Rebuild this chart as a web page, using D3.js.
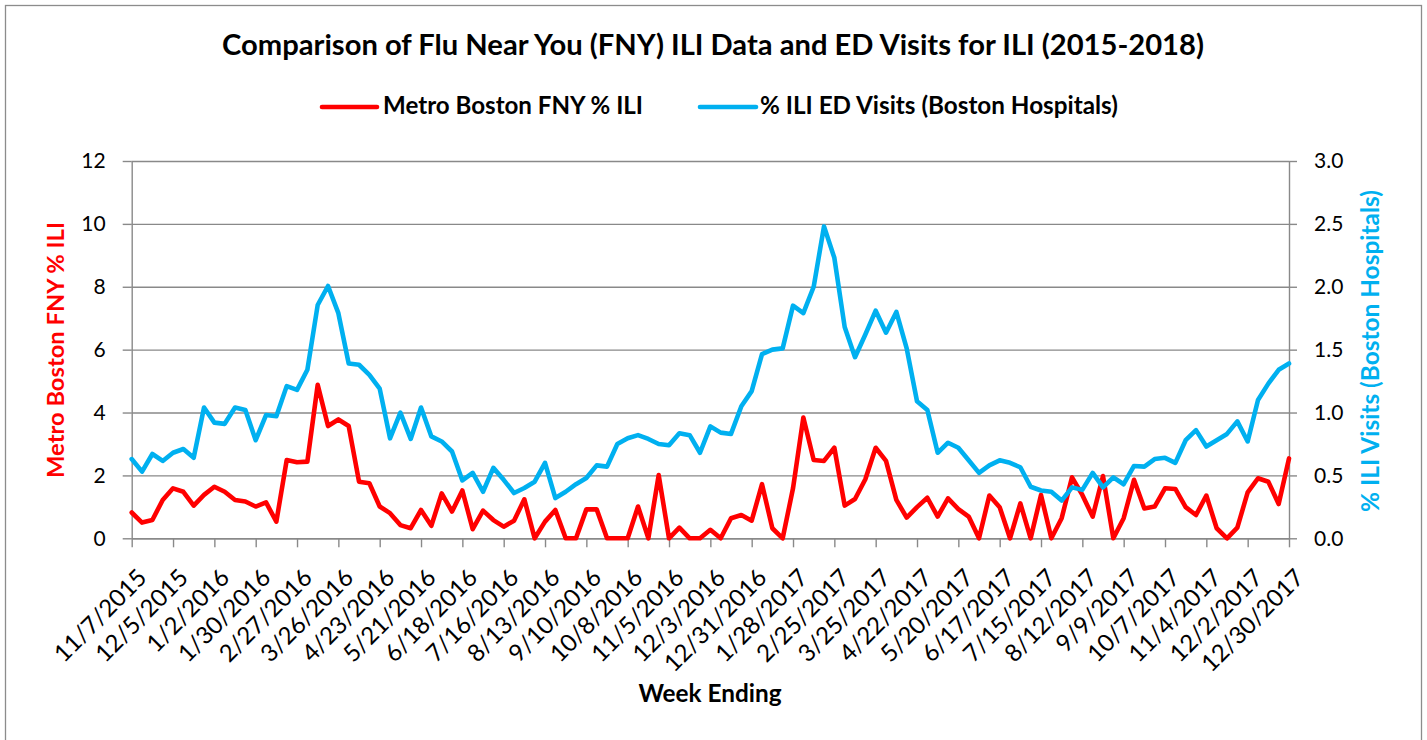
<!DOCTYPE html>
<html>
<head>
<meta charset="utf-8">
<script src="https://cdn.jsdelivr.net/npm/d3@7"></script>
<style>
  body { margin: 0; background: #fff; }
  svg { display: block; font-family: Lato, "Open Sans", sans-serif; }
</style>
</head>
<body>
<svg id="chart" width="1427" height="740"></svg>
<script>
width = 1427;
height = 740;

// weekly points, week ending Saturday
startWeek = '11/7/2015';
tickLabels = ['11/7/2015','12/5/2015','1/2/2016','1/30/2016','2/27/2016','3/26/2016','4/23/2016',
	'5/21/2016','6/18/2016','7/16/2016','8/13/2016','9/10/2016','10/8/2016','11/5/2016','12/3/2016',
	'12/31/2016','1/28/2017','2/25/2017','3/25/2017','4/22/2017','5/20/2017','6/17/2017','7/15/2017',
	'8/12/2017','9/9/2017','10/7/2017','11/4/2017','12/2/2017','12/30/2017'];

leftTicks = [0, 2, 4, 6, 8, 10, 12];
rightTicks = [0, 0.5, 1, 1.5, 2, 2.5, 3];

// Metro Boston FNY % ILI (left axis)
fnyValues = [0.82,0.50,0.58,1.22,1.59,1.48,1.04,1.38,1.64,1.48,1.22,1.17,1.01,1.14,0.53,2.49,2.42,2.44,4.88,3.57,
	3.78,3.57,1.80,1.75,1.01,0.80,0.42,0.32,0.90,0.40,1.43,0.85,1.52,0.29,0.88,0.58,0.37,0.56,1.24,0,
	0.53,0.90,0,0,0.92,0.92,0,0,0,1.01,0,2.01,0,0.34,0,0,0.27,0,0.64,0.74,
	0.56,1.72,0.32,0,1.59,3.84,2.49,2.46,2.88,1.04,1.25,1.88,2.88,2.46,1.22,0.66,0.99,1.29,0.69,1.27,
	0.93,0.69,0,1.36,0.99,0,1.11,0,1.38,0,0.64,1.94,1.38,0.69,1.98,0,0.64,1.86,0.95,1.01,
	1.59,1.57,0.99,0.74,1.36,0.32,0,0.34,1.46,1.91,1.80,1.09,2.54];

// % ILI ED visits, Boston hospitals (right axis)
edValues = [0.63,0.53,0.67,0.615,0.68,0.71,0.64,1.04,0.92,0.91,1.04,1.02,0.78,0.98,0.97,1.21,1.18,1.34,1.855,2.006,
	1.79,1.39,1.38,1.30,1.19,0.795,1.00,0.79,1.04,0.81,0.77,0.69,0.46,0.52,0.37,0.56,0.465,0.36,0.40,0.45,
	0.60,0.32,0.37,0.43,0.48,0.58,0.57,0.75,0.795,0.82,0.79,0.75,0.74,0.835,0.82,0.68,0.89,0.84,0.83,1.05,
	1.17,1.465,1.50,1.51,1.85,1.79,2.00,2.48,2.23,1.68,1.44,1.62,1.81,1.635,1.80,1.51,1.09,1.02,0.68,0.76,
	0.72,0.62,0.52,0.58,0.62,0.60,0.565,0.41,0.38,0.37,0.30,0.405,0.385,0.52,0.405,0.485,0.43,0.575,0.57,0.63,
	0.64,0.60,0.78,0.86,0.73,0.78,0.83,0.93,0.77,1.10,1.23,1.34,1.39];

seriesNames = ['Metro Boston FNY % ILI', '% ILI ED Visits (Boston Hospitals)'];
RED = '#FF0000';
BLUE = '#00B0F0';
GRID = '#898989';

plot = {left: 131.7, right: 1289, top: 161, bottom: 538.3};

const parseDate = d3.timeParse('%m/%d/%Y');
const weeks = fnyValues.map((v, i) => d3.timeDay.offset(parseDate(startWeek), 7 * i));

const svg = d3.select('#chart');

// fit a text to a measured width
function fitWidth(sel, w){
	const len = sel.node().getComputedTextLength();
	const size = parseFloat(sel.attr('font-size'));
	sel.attr('font-size', size * w / len);
}

svg.append('rect')
	.attr('x', 5.5).attr('y', 5.5)
	.attr('width', 1416).attr('height', 760)
	.attr('fill', '#fff')
	.attr('stroke', '#8c8c8c')
	.attr('stroke-width', 1.3);

const x = d3.scaleTime()
	.domain([weeks[0], weeks[weeks.length - 1]])
	.range([plot.left, plot.right]);
const yL = d3.scaleLinear().domain([0, 12]).range([plot.bottom, plot.top]);
const yR = d3.scaleLinear().domain([0, 3]).range([plot.bottom, plot.top]);

// gridlines
svg.append('g')
	.attr('transform', `translate(${plot.left},0)`)
	.call(d3.axisLeft(yL).tickValues(leftTicks).tickSize(-(plot.right - plot.left)).tickFormat(''))
	.call(g => g.select('.domain').remove())
	.call(g => g.selectAll('line').attr('stroke', GRID).attr('stroke-width', 1.4));

// left axis
const axL = svg.append('g')
	.attr('transform', `translate(${plot.left},0)`)
	.call(d3.axisLeft(yL).tickValues(leftTicks).tickSize(9).tickSizeOuter(0).tickPadding(17));
// right axis
const axR = svg.append('g')
	.attr('transform', `translate(${plot.right},0)`)
	.call(d3.axisRight(yR).tickValues(rightTicks).tickSize(8).tickSizeOuter(0).tickPadding(17)
		.tickFormat(d3.format('.1f')));
// bottom axis
const axB = svg.append('g')
	.attr('transform', `translate(0,${plot.bottom})`)
	.call(d3.axisBottom(x).tickValues(tickLabels.map(parseDate)).tickSize(9).tickSizeOuter(0)
		.tickFormat((d, i) => tickLabels[i]));

[axL, axR, axB].forEach(ax => {
	ax.select('.domain').attr('stroke', GRID).attr('stroke-width', 1.4);
	ax.selectAll('.tick line').attr('stroke', GRID).attr('stroke-width', 1.4);
	ax.selectAll('.tick text')
		.attr('fill', '#000')
		.attr('font-family', 'Lato, sans-serif')
		.attr('font-size', 21);
});
axB.selectAll('.tick text')
	.attr('font-size', 24)
	.attr('x', null).attr('y', null)
	.attr('dy', '0.35em')
	.attr('text-anchor', 'end')
	.attr('transform', 'translate(10,35) rotate(-45)');

// series
const line = (scale) => d3.line()
	.x((d, i) => x(weeks[i]))
	.y(d => scale(d));

svg.append('path')
	.datum(fnyValues)
	.attr('fill', 'none')
	.attr('stroke', RED)
	.attr('stroke-width', 4.6)
	.attr('stroke-linejoin', 'round')
	.attr('stroke-linecap', 'round')
	.attr('d', line(yL));

svg.append('path')
	.datum(edValues)
	.attr('fill', 'none')
	.attr('stroke', BLUE)
	.attr('stroke-width', 4.6)
	.attr('stroke-linejoin', 'round')
	.attr('stroke-linecap', 'round')
	.attr('d', line(yR));

// title
const title = svg.append('text')
	.attr('x', 713).attr('y', 55)
	.attr('text-anchor', 'middle')
	.attr('font-weight', 'bold')
	.attr('font-size', 26)
	.text('Comparison of Flu Near You (FNY) ILI Data and ED Visits for ILI (2015-2018)');
fitWidth(title, 982);

// legend
const legend = [
	{name: seriesNames[0], color: RED, x0: 322, x1: 377, tx: 383, w: 260},
	{name: seriesNames[1], color: BLUE, x0: 700, x1: 756, tx: 760, w: 358}
];
legend.forEach(l => {
	svg.append('line')
		.attr('x1', l.x0).attr('x2', l.x1)
		.attr('y1', 107).attr('y2', 107)
		.attr('stroke', l.color)
		.attr('stroke-width', 4.6)
		.attr('stroke-linecap', 'round');
	const t = svg.append('text')
		.attr('x', l.tx).attr('y', 114)
		.attr('font-weight', 'bold')
		.attr('font-size', 20)
		.text(l.name);
	fitWidth(t, l.w);
});

// axis titles
const tL = svg.append('text')
	.attr('transform', 'translate(64,350) rotate(-90)')
	.attr('text-anchor', 'middle')
	.attr('font-weight', 'bold')
	.attr('font-size', 21)
	.attr('fill', RED)
	.text('Metro Boston FNY % ILI');
fitWidth(tL, 256);

const tR = svg.append('text')
	.attr('transform', 'translate(1379,351) rotate(-90)')
	.attr('text-anchor', 'middle')
	.attr('font-weight', 'bold')
	.attr('font-size', 21)
	.attr('fill', BLUE)
	.text('% ILI Visits (Boston Hospitals)');
fitWidth(tR, 322);

const tX = svg.append('text')
	.attr('x', 710).attr('y', 702)
	.attr('text-anchor', 'middle')
	.attr('font-weight', 'bold')
	.attr('font-size', 22)
	.text('Week Ending');
fitWidth(tX, 143);
</script>
</body>
</html>
